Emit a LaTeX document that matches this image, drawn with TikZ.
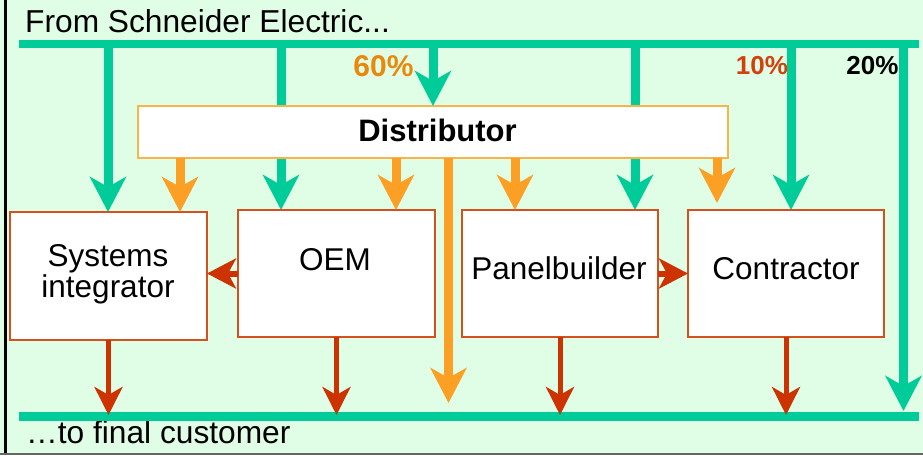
\documentclass[tikz,border=0pt]{standalone}
\usepackage{fontspec}
\setmainfont{Liberation Sans}
\usetikzlibrary{arrows.meta}
\definecolor{bgc}{HTML}{E0FDE6}
\definecolor{grn}{HTML}{00CC99}
\definecolor{org}{HTML}{FBA024}
\definecolor{redc}{HTML}{CC3300}
\definecolor{boxc}{HTML}{D4501C}
\definecolor{distc}{HTML}{F5B54A}
\definecolor{csixty}{HTML}{E8890C}
\definecolor{cten}{HTML}{D4400C}
\pgfdeclarelayer{bg}
\pgfsetlayers{bg,main}
\begin{document}
\begin{tikzpicture}[x=1pt,y=-1pt,
  box/.style={draw=boxc, line width=1.5pt, fill=white, inner sep=0pt, outer sep=0pt,
    minimum width=197pt, minimum height=127pt},
  distbox/.style={draw=distc, line width=1.5pt, fill=white, inner sep=0pt, outer sep=0pt,
    minimum width=590pt, minimum height=52pt},
  txt/.style={font=\fontsize{31.5}{29}\selectfont, inner sep=0pt, anchor=base, align=center},
  pct/.style={inner sep=0pt, anchor=base},
  gline/.style={draw=grn, line width=9pt},
  garrow/.style={draw=grn, line width=9pt, -{Stealth[length=35pt,width=36pt,inset=10pt]}},
  oarrow/.style={draw=org, line width=9pt, -{Stealth[length=35pt,width=36pt,inset=10pt]}},
  rarrow/.style={draw=redc, line width=5pt, -{Stealth[length=28pt,width=28pt,inset=8pt]}},
  harrow/.style={draw=redc, line width=6pt, -{Stealth[length=29pt,width=30pt,inset=8pt]}}
]
\useasboundingbox (0,0) rectangle (923,455);
\begin{pgfonlayer}{bg}
  \fill[bgc] (0,0) rectangle (923,455);
\end{pgfonlayer}
\draw[black, line width=2.5pt] (5.5,0) -- (5.5,455);
\draw[black!60, line width=2pt] (0,454) -- (923,454);

% boxes
\node[box, minimum height=128pt] (si) at (108.5,276) {};
\node[box] (oem) at (336.5,273.5) {};
\node[box, minimum width=196pt] (pb) at (560,273.5) {};
\node[box, minimum width=196pt] (ct) at (786,273.5) {};
\node[distbox] (dist) at (433,132) {};

% box texts
\node[txt] (sit) at (108,297) {Systems\\integrator};
\node[txt] (oemt) at (335,270) {OEM};
\node[txt] (pbt) at (559,279) {Panelbuilder};
\node[txt] (ctt) at (786,279) {Contractor};
\node[txt, font=\bfseries\fontsize{31}{31}\selectfont] (distt) at (437.5,141) {Distributor};

% header / footer
\node[txt, anchor=base west, font=\fontsize{31.7}{31}\selectfont] (from) at (25,32) {From Schneider Electric...};
\node[txt, anchor=base west, font=\fontsize{31.7}{31}\selectfont] (to) at (26,443) {…to final customer};

% main lines
\coordinate (tl) at (19,44);
\coordinate (tr) at (919,44);
\coordinate (bl) at (19,416.5);
\coordinate (br) at (919,416.5);
\draw[gline, line width=8pt] (tl) -- (tr);
\draw[gline] (bl) -- (br);

% green arrows
\coordinate (g1) at (108,44);
\coordinate (g2) at (281,44);
\coordinate (g3) at (433,44);
\coordinate (g4) at (635,44);
\coordinate (g5) at (791,44);
\coordinate (g6) at (903.5,44);
\coordinate (g6e) at (903.5,411);
\draw[garrow] (g1) -- (g1 |- si.north);
\begin{pgfonlayer}{bg}
  \draw[garrow] (g2) -- (g2 |- oem.north);
  \draw[garrow] (g4) -- (g4 |- pb.north);
\end{pgfonlayer}
\draw[garrow] (g3) -- (g3 |- dist.north);
\draw[garrow] (g5) -- (g5 |- ct.north);
\draw[garrow] (g6) -- (g6e);

% orange arrows
\coordinate (xo1) at (180,0);
\coordinate (xo2) at (396,0);
\coordinate (xo3) at (515,0);
\coordinate (o4e) at (717,203);
\coordinate (o5e) at (448.5,403);
\draw[oarrow] (dist.south -| xo1) -- (si.north -| xo1);
\draw[oarrow] (dist.south -| xo2) -- (oem.north -| xo2);
\draw[oarrow] (dist.south -| xo3) -- (pb.north -| xo3);
\draw[oarrow] (dist.south -| o4e) -- (o4e);
\draw[oarrow] (dist.south -| o5e) -- (o5e);

% red arrows
\coordinate (rb) at (0,415);
\draw[rarrow] (si.south) -- (si.south |- rb);
\draw[rarrow] (oem.south) -- (oem.south |- rb);
\draw[rarrow] (pb.south) -- (pb.south |- rb);
\draw[rarrow] (ct.south) -- (ct.south |- rb);
\draw[harrow] (oem.west) -- (oem.west -| si.east);
\draw[harrow] (pb.east) -- (pb.east -| ct.west);

% percentages
\node[pct, text=csixty, font=\bfseries\fontsize{30}{30}\selectfont] (p60) at (383.5,76) {60\%};
\node[pct, text=cten, font=\bfseries\fontsize{26}{26}\selectfont] (p10) at (762,74) {10\%};
\node[pct, text=black, font=\bfseries\fontsize{26}{26}\selectfont] (p20) at (872.5,74) {20\%};
\end{tikzpicture}
\end{document}
